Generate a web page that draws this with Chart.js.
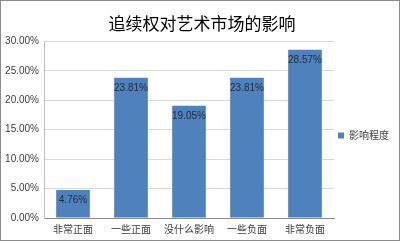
<!DOCTYPE html>
<html lang="zh">
<head>
    <meta charset="UTF-8">
    <title>追续权对艺术市场的影响</title>
    <script src="https://cdn.jsdelivr.net/npm/chart.js"></script>
    <style>
        html, body { margin: 0; padding: 0; background: #fff; }
        .chart-box {
            width: 398px;
            height: 239px;
            border: 1px solid #8c8c8c;
        }
    </style>
</head>
<body>
    <div class="chart-box">
        <canvas id="barChart" width="398" height="239"></canvas>
    </div>

    <script>
        const categories = ['非常正面', '一些正面', '没什么影响', '一些负面', '非常负面'];
        const values = [4.76, 23.81, 19.05, 23.81, 28.57];
        const seriesName = '影响程度';
        const chartTitle = '追续权对艺术市场的影响';

        const cjkFont = '"Noto Sans CJK SC", "DejaVu Sans", sans-serif';
        const numFont = '"Liberation Sans", "DejaVu Sans", sans-serif';

        // draw the percentage just inside the top of each bar
        const valueLabels = {
            id: 'valueLabels',
            afterDatasetsDraw(chart) {
                const ctx = chart.ctx;
                const meta = chart.getDatasetMeta(0);
                ctx.save();
                ctx.font = '10px ' + numFont;
                ctx.fillStyle = '#1f2d3d';
                ctx.textAlign = 'center';
                ctx.textBaseline = 'middle';
                meta.data.forEach((bar, i) => {
                    ctx.fillText(values[i].toFixed(2) + '%', bar.x, bar.y + 10);
                });
                ctx.restore();
            }
        };

        const ctx = document.getElementById('barChart').getContext('2d');
        new Chart(ctx, {
            type: 'bar',
            data: {
                labels: categories,
                datasets: [{
                    label: seriesName,
                    data: values,
                    backgroundColor: '#4f81bd',
                    borderWidth: 0,
                    barPercentage: 0.58,
                    categoryPercentage: 1.0
                }]
            },
            options: {
                responsive: false,
                animation: false,
                layout: { padding: { left: 4, right: 0, top: 0, bottom: 0 } },
                plugins: {
                    title: {
                        display: true,
                        text: chartTitle,
                        color: '#000',
                        font: { family: cjkFont, size: 17, weight: 'normal' },
                        padding: { top: 12, bottom: 8 }
                    },
                    legend: {
                        position: 'right',
                        // blank title just pushes the entry down to the plot's middle
                        title: {
                            display: true,
                            text: ' ',
                            font: { size: 10 },
                            padding: 9
                        },
                        labels: {
                            boxWidth: 6,
                            boxHeight: 6,
                            padding: 4,
                            color: '#404040',
                            font: { family: cjkFont, size: 10 }
                        }
                    },
                    tooltip: { enabled: false }
                },
                scales: {
                    x: {
                        grid: { display: false, drawTicks: false },
                        border: { color: '#8c8c8c' },
                        ticks: {
                            color: '#404040',
                            font: { family: cjkFont, size: 10 },
                            padding: 5,
                            autoSkip: false,
                            maxRotation: 0
                        }
                    },
                    y: {
                        min: 0,
                        max: 30,
                        afterFit: scale => { scale.width = 39; },
                        grid: { color: '#d9d9d9', drawTicks: false },
                        border: { color: '#bfbfbf' },
                        ticks: {
                            stepSize: 5,
                            color: '#404040',
                            font: { family: numFont, size: 10 },
                            padding: 5,
                            callback: v => v.toFixed(2) + '%'
                        }
                    }
                }
            },
            plugins: [valueLabels]
        });
    </script>
</body>
</html>
